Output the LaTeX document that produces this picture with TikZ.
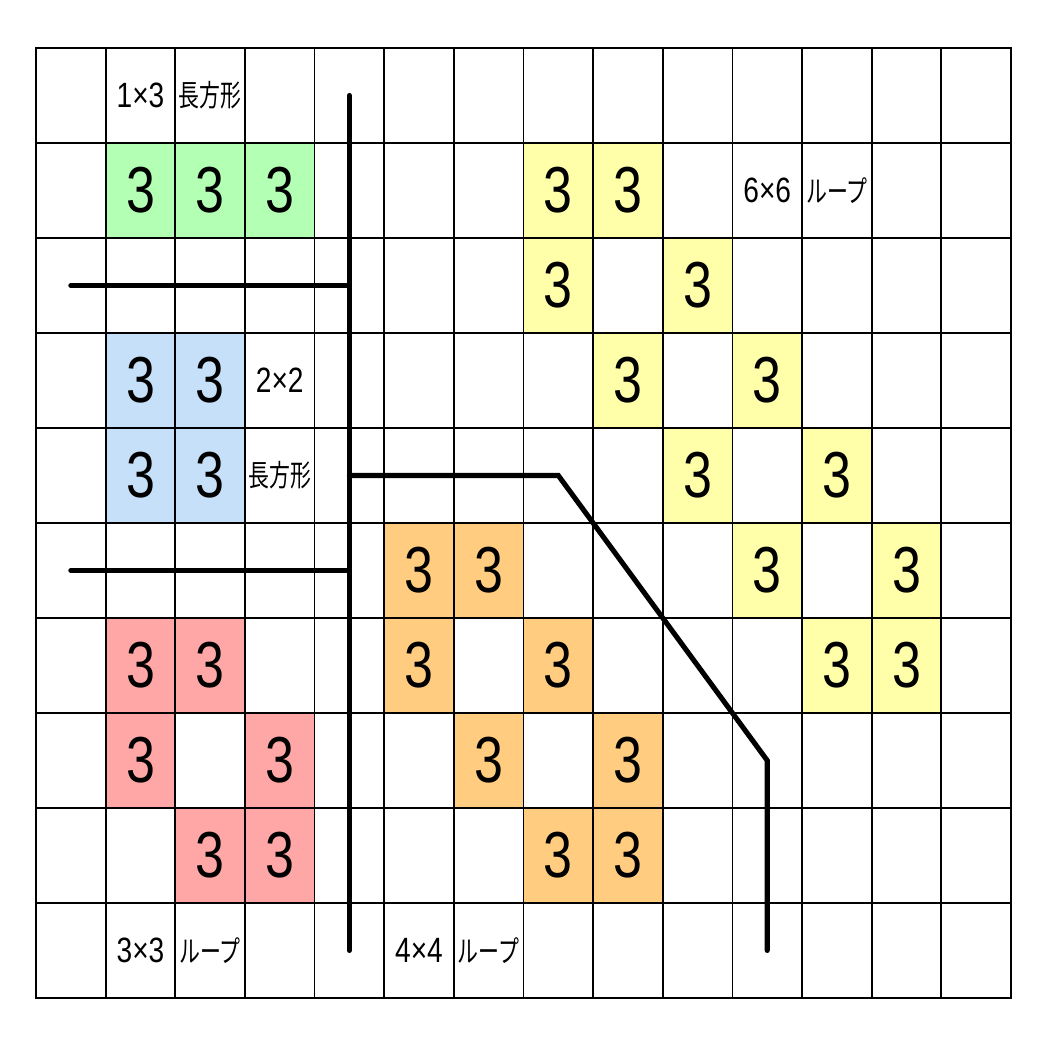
\documentclass[tikz,border=0pt]{standalone}
\usepackage{fontspec}
\newfontfamily\digitfont[FakeStretch=0.8]{Liberation Sans}
\newfontfamily\kanafont[FakeStretch=0.7]{Noto Sans CJK JP}
\usetikzlibrary{positioning}

\definecolor{boxgreen}{HTML}{B3FFB3}
\definecolor{boxblue}{HTML}{C6E0FA}
\definecolor{boxred}{HTML}{FFA6A6}
\definecolor{boxorange}{HTML}{FFCC80}
\definecolor{boxyellow}{HTML}{FFFFAA}

\begin{document}
\begin{tikzpicture}[x=0.6964cm, y=-0.95cm,
    cell/.style = {draw, line width=0.5pt, minimum width=0.6964cm, minimum height=0.95cm, inner sep=0pt},
    clue/.style = {cell, font=\digitfont\fontsize{18.5}{18.5}\selectfont},
    note/.style = {inner sep=0pt, font=\digitfont\fontsize{10}{10}\selectfont},
    jpnote/.style = {inner sep=0pt, font=\kanafont\fontsize{8.5}{9}\selectfont},
    wall/.style = {line width=1.45pt, line cap=round}]
  \useasboundingbox (-0.517,-0.505) rectangle (14.489,10.495);

  \foreach \c in {0,...,13}
    \foreach \r in {0,...,9}
      \node (c\c-\r) [cell] at (\c+0.5,\r+0.5) {};

  \foreach \c/\r in {1/1,2/1,3/1}
    \node (g\c-\r) [clue, fill=boxgreen] at (c\c-\r) {3};
  \foreach \c/\r in {1/3,2/3,1/4,2/4}
    \node (b\c-\r) [clue, fill=boxblue] at (c\c-\r) {3};
  \foreach \c/\r in {1/6,2/6,1/7,3/7,2/8,3/8}
    \node (r\c-\r) [clue, fill=boxred] at (c\c-\r) {3};
  \foreach \c/\r in {5/5,6/5,5/6,7/6,6/7,8/7,7/8,8/8}
    \node (o\c-\r) [clue, fill=boxorange] at (c\c-\r) {3};
  \foreach \c/\r in {7/1,8/1,7/2,9/2,8/3,10/3,9/4,11/4,10/5,12/5,11/6,12/6}
    \node (y\c-\r) [clue, fill=boxyellow] at (c\c-\r) {3};

  \node (n13) [note] at (c1-0) {1×3};
  \node (n13j) [jpnote] at (c2-0) {長方形};
  \node (n22) [note] at (c3-3) {2×2};
  \node (n22j) [jpnote] at (c3-4) {長方形};
  \node (n33) [note] at (c1-9) {3×3};
  \node (n33j) [jpnote] at (c2-9) {ループ};
  \node (n44) [note] at (c5-9) {4×4};
  \node (n44j) [jpnote] at (c6-9) {ループ};
  \node (n66) [note] at (c10-1) {6×6};
  \node (n66j) [jpnote] at (c11-1) {ループ};

  \draw [wall] (c4-0.center) -- (c4-9.center);
  \draw [wall] (c0-2.center) -- (c4-2.center);
  \draw [wall] (c0-5.center) -- (c4-5.center);
  \draw [wall] (c4-4.center) -- (c7-4.center) -- (c10-7.center) -- (c10-9.center);
\end{tikzpicture}
\end{document}
